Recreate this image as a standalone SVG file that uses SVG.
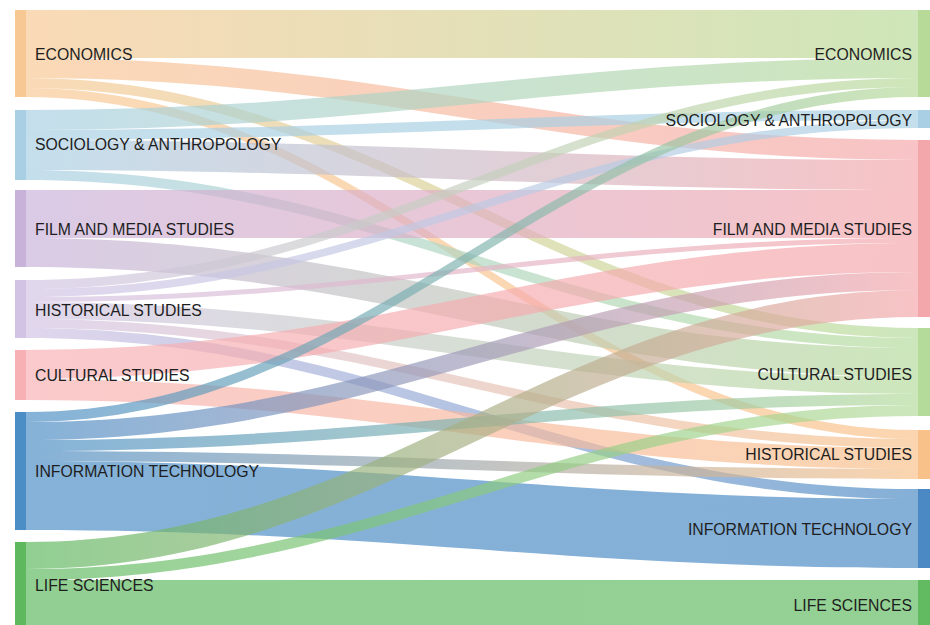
<svg xmlns="http://www.w3.org/2000/svg" width="930" height="625" viewBox="0 0 930 625">
<style>
text{font-family:"Liberation Sans",Arial,Helvetica,sans-serif;font-size:15.8px;fill:#1e1e1e}
.r{text-anchor:end}
#links path{fill-opacity:.68}
</style>
<defs>
<linearGradient id="gEE"><stop offset="0" stop-color="#f8c894"/><stop offset="1" stop-color="#b7da98"/></linearGradient>
<linearGradient id="gEF"><stop offset="0" stop-color="#f8c894"/><stop offset="1" stop-color="#f4a7ab"/></linearGradient>
<linearGradient id="gEC"><stop offset="0" stop-color="#f8c894"/><stop offset="1" stop-color="#b5db9b"/></linearGradient>
<linearGradient id="gEH"><stop offset="0" stop-color="#f8c894"/><stop offset="1" stop-color="#f8c18a"/></linearGradient>
<linearGradient id="gSE"><stop offset="0" stop-color="#a8cfe3"/><stop offset="1" stop-color="#b7da98"/></linearGradient>
<linearGradient id="gSS"><stop offset="0" stop-color="#a8cfe3"/><stop offset="1" stop-color="#a8cfe3"/></linearGradient>
<linearGradient id="gSF"><stop offset="0" stop-color="#a8cfe3"/><stop offset="1" stop-color="#f4a7ab"/></linearGradient>
<linearGradient id="gSC"><stop offset="0" stop-color="#a8cfe3"/><stop offset="1" stop-color="#b5db9b"/></linearGradient>
<linearGradient id="gFF"><stop offset="0" stop-color="#c9b2da"/><stop offset="1" stop-color="#f4a7ab"/></linearGradient>
<linearGradient id="gFC"><stop offset="0" stop-color="#c9b2da"/><stop offset="1" stop-color="#b5db9b"/></linearGradient>
<linearGradient id="gHE"><stop offset="0" stop-color="#d2c3e4"/><stop offset="1" stop-color="#b7da98"/></linearGradient>
<linearGradient id="gHS"><stop offset="0" stop-color="#d2c3e4"/><stop offset="1" stop-color="#a8cfe3"/></linearGradient>
<linearGradient id="gHF"><stop offset="0" stop-color="#d2c3e4"/><stop offset="1" stop-color="#f4a7ab"/></linearGradient>
<linearGradient id="gHC"><stop offset="0" stop-color="#d2c3e4"/><stop offset="1" stop-color="#b5db9b"/></linearGradient>
<linearGradient id="gHH"><stop offset="0" stop-color="#d2c3e4"/><stop offset="1" stop-color="#f8c18a"/></linearGradient>
<linearGradient id="gHI"><stop offset="0" stop-color="#d2c3e4"/><stop offset="1" stop-color="#4a89c3"/></linearGradient>
<linearGradient id="gCF"><stop offset="0" stop-color="#f7b0b3"/><stop offset="1" stop-color="#f4a7ab"/></linearGradient>
<linearGradient id="gCH"><stop offset="0" stop-color="#f7b0b3"/><stop offset="1" stop-color="#f8c18a"/></linearGradient>
<linearGradient id="gIE"><stop offset="0" stop-color="#4b8dc5"/><stop offset="1" stop-color="#b7da98"/></linearGradient>
<linearGradient id="gIF"><stop offset="0" stop-color="#4b8dc5"/><stop offset="1" stop-color="#f4a7ab"/></linearGradient>
<linearGradient id="gIC"><stop offset="0" stop-color="#4b8dc5"/><stop offset="1" stop-color="#b5db9b"/></linearGradient>
<linearGradient id="gIH"><stop offset="0" stop-color="#4b8dc5"/><stop offset="1" stop-color="#f8c18a"/></linearGradient>
<linearGradient id="gII"><stop offset="0" stop-color="#4b8dc5"/><stop offset="1" stop-color="#4a89c3"/></linearGradient>
<linearGradient id="gLF"><stop offset="0" stop-color="#5db85e"/><stop offset="1" stop-color="#f4a7ab"/></linearGradient>
<linearGradient id="gLC"><stop offset="0" stop-color="#5db85e"/><stop offset="1" stop-color="#b5db9b"/></linearGradient>
<linearGradient id="gLL"><stop offset="0" stop-color="#5db85e"/><stop offset="1" stop-color="#62bb61"/></linearGradient>
</defs>
<rect width="930" height="625" fill="#fff"/>
<g id="links">
<path fill="url(#gEE)" d="M26,10C383,10 561,10 918,10L918,58C561,58 383,58 26,58Z"/>
<path fill="url(#gEF)" d="M26,58C383,58 561,140 918,140L918,160C561,160 383,78 26,78Z"/>
<path fill="url(#gEC)" d="M26,78C383,78 561,328 918,328L918,338C561,338 383,88 26,88Z"/>
<path fill="url(#gEH)" d="M26,88C383,88 561,430 918,430L918,439C561,439 383,97 26,97Z"/>
<path fill="url(#gSE)" d="M26,110C383,110 561,58 918,58L918,78C561,78 383,130 26,130Z"/>
<path fill="url(#gSS)" d="M26,130C383,130 561,110 918,110L918,120C561,120 383,140 26,140Z"/>
<path fill="url(#gSF)" d="M26,140C383,140 561,160 918,160L918,190C561,190 383,170 26,170Z"/>
<path fill="url(#gSC)" d="M26,170C383,170 561,338 918,338L918,348C561,348 383,180 26,180Z"/>
<path fill="url(#gFF)" d="M26,190C383,190 561,190 918,190L918,238C561,238 383,238 26,238Z"/>
<path fill="url(#gFC)" d="M26,238C383,238 561,348 918,348L918,377C561,377 383,267 26,267Z"/>
<path fill="url(#gHE)" d="M26,280C383,280 561,78 918,78L918,87C561,87 383,289 26,289Z"/>
<path fill="url(#gHS)" d="M26,289C383,289 561,120 918,120L918,128C561,128 383,297 26,297Z"/>
<path fill="url(#gHF)" d="M26,297C383,297 561,238 918,238L918,243C561,243 383,302 26,302Z"/>
<path fill="url(#gHC)" d="M26,302C383,302 561,377 918,377L918,394C561,394 383,319 26,319Z"/>
<path fill="url(#gHH)" d="M26,319C383,319 561,439 918,439L918,448C561,448 383,328 26,328Z"/>
<path fill="url(#gHI)" d="M26,328C383,328 561,489 918,489L918,499C561,499 383,338 26,338Z"/>
<path fill="url(#gCF)" d="M26,350C383,350 561,243 918,243L918,272C561,272 383,379 26,379Z"/>
<path fill="url(#gCH)" d="M26,379C383,379 561,448 918,448L918,469C561,469 383,400 26,400Z"/>
<path fill="url(#gIE)" d="M26,412C383,412 561,87 918,87L918,97C561,97 383,422 26,422Z"/>
<path fill="url(#gIF)" d="M26,422C383,422 561,272 918,272L918,290C561,290 383,440 26,440Z"/>
<path fill="url(#gIC)" d="M26,440C383,440 561,394 918,394L918,405C561,405 383,451 26,451Z"/>
<path fill="url(#gIH)" d="M26,451C383,451 561,469 918,469L918,479C561,479 383,461 26,461Z"/>
<path fill="url(#gII)" d="M26,461C383,461 561,499 918,499L918,568C561,568 383,530 26,530Z"/>
<path fill="url(#gLF)" d="M26,542C383,542 561,290 918,290L918,317C561,317 383,569 26,569Z"/>
<path fill="url(#gLC)" d="M26,569C383,569 561,405 918,405L918,416C561,416 383,580 26,580Z"/>
<path fill="url(#gLL)" d="M26,580C383,580 561,580 918,580L918,625C561,625 383,625 26,625Z"/>
</g>
<g id="left-economics"><rect x="15" y="10" width="11" height="87" fill="#f8c894"/><text x="35" y="60">ECONOMICS</text></g>
<g id="left-sociology"><rect x="15" y="110" width="11" height="70" fill="#a8cfe3"/><text x="35" y="150">SOCIOLOGY &amp; ANTHROPOLOGY</text></g>
<g id="left-film"><rect x="15" y="190" width="11" height="77" fill="#c9b2da"/><text x="35" y="235">FILM AND MEDIA STUDIES</text></g>
<g id="left-historical"><rect x="15" y="280" width="11" height="58" fill="#d2c3e4"/><text x="35" y="316">HISTORICAL STUDIES</text></g>
<g id="left-cultural"><rect x="15" y="350" width="11" height="50" fill="#f7b0b3"/><text x="35" y="381">CULTURAL STUDIES</text></g>
<g id="left-it"><rect x="15" y="412" width="11" height="118" fill="#4b8dc5"/><text x="35" y="477">INFORMATION TECHNOLOGY</text></g>
<g id="left-life"><rect x="15" y="542" width="11" height="83" fill="#5db85e"/><text x="35" y="591">LIFE SCIENCES</text></g>
<g id="right-economics"><rect x="918" y="10" width="12" height="87" fill="#b7da98"/><text class="r" x="912" y="60">ECONOMICS</text></g>
<g id="right-sociology"><rect x="918" y="110" width="12" height="18" fill="#a8cfe3"/><text class="r" x="912" y="126">SOCIOLOGY &amp; ANTHROPOLOGY</text></g>
<g id="right-film"><rect x="918" y="140" width="12" height="177" fill="#f4a7ab"/><text class="r" x="912" y="235">FILM AND MEDIA STUDIES</text></g>
<g id="right-cultural"><rect x="918" y="328" width="12" height="88" fill="#b5db9b"/><text class="r" x="912" y="380">CULTURAL STUDIES</text></g>
<g id="right-historical"><rect x="918" y="430" width="12" height="49" fill="#f8c18a"/><text class="r" x="912" y="460">HISTORICAL STUDIES</text></g>
<g id="right-it"><rect x="918" y="489" width="12" height="79" fill="#4a89c3"/><text class="r" x="912" y="535">INFORMATION TECHNOLOGY</text></g>
<g id="right-life"><rect x="918" y="580" width="12" height="45" fill="#62bb61"/><text class="r" x="912" y="611">LIFE SCIENCES</text></g>
</svg>
